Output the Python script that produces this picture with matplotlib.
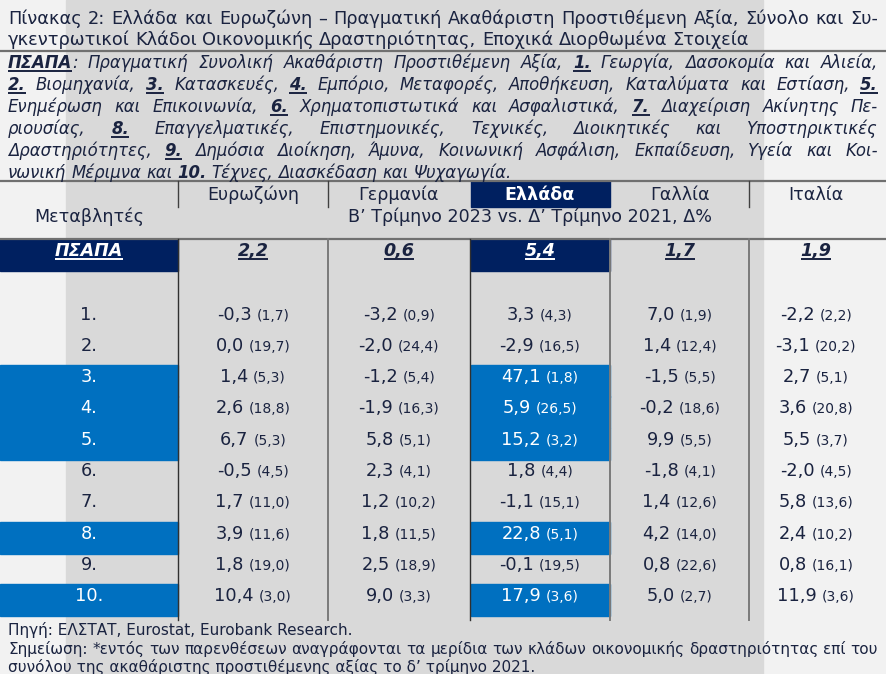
import matplotlib.pyplot as plt
from matplotlib.patches import Rectangle

plt.rcParams['font.family'] = ['DejaVu Sans']

# data
countries = ['Ευρωζώνη', 'Γερμανία', 'Ελλάδα', 'Γαλλία', 'Ιταλία']
totals = [2.2, 0.6, 5.4, 1.7, 1.9]
row_labels = ['1.', '2.', '3.', '4.', '5.', '6.', '7.', '8.', '9.', '10.']
euro = [-0.3, 0.0, 1.4, 2.6, 6.7, -0.5, 1.7, 3.9, 1.8, 10.4]
euro_sh = [1.7, 19.7, 5.3, 18.8, 5.3, 4.5, 11.0, 11.6, 19.0, 3.0]
ger = [-3.2, -2.0, -1.2, -1.9, 5.8, 2.3, 1.2, 1.8, 2.5, 9.0]
ger_sh = [0.9, 24.4, 5.4, 16.3, 5.1, 4.1, 10.2, 11.5, 18.9, 3.3]
gre = [3.3, -2.9, 47.1, 5.9, 15.2, 1.8, -1.1, 22.8, -0.1, 17.9]
gre_sh = [4.3, 16.5, 1.8, 26.5, 3.2, 4.4, 15.1, 5.1, 19.5, 3.6]
fra = [7.0, 1.4, -1.5, -0.2, 9.9, -1.8, 1.4, 4.2, 0.8, 5.0]
fra_sh = [1.9, 12.4, 5.5, 18.6, 5.5, 4.1, 12.6, 14.0, 22.6, 2.7]
ita = [-2.2, -3.1, 2.7, 3.6, 5.5, -2.0, 5.8, 2.4, 0.8, 11.9]
ita_sh = [2.2, 20.2, 5.1, 20.8, 3.7, 4.5, 13.6, 10.2, 16.1, 3.6]
highlight = ['3.', '4.', '5.', '8.', '10.']

title = ['Πίνακας 2: Ελλάδα και Ευρωζώνη – Πραγματική Ακαθάριστη Προστιθέμενη Αξία, Σύνολο και Συ-',
         'γκεντρωτικοί Κλάδοι Οικονομικής Δραστηριότητας, Εποχικά Διορθωμένα Στοιχεία']
# *...* = bold underlined
desc = ['*ΠΣΑΠΑ*: Πραγματική Συνολική Ακαθάριστη Προστιθέμενη Αξία, *1.* Γεωργία, Δασοκομία και Αλιεία,',
        '*2.* Βιομηχανία, *3.* Κατασκευές, *4.* Εμπόριο, Μεταφορές, Αποθήκευση, Καταλύματα και Εστίαση, *5.*',
        'Ενημέρωση και Επικοινωνία, *6.* Χρηματοπιστωτικά και Ασφαλιστικά, *7.* Διαχείριση Ακίνητης Πε-',
        'ριουσίας, *8.* Επαγγελματικές, Επιστημονικές, Τεχνικές, Διοικητικές και Υποστηρικτικές',
        'Δραστηριότητες, *9.* Δημόσια Διοίκηση, Άμυνα, Κοινωνική Ασφάλιση, Εκπαίδευση, Υγεία και Κοι-',
        'νωνική Μέριμνα και *10.* Τέχνες, Διασκέδαση και Ψυχαγωγία.']
subtitle = 'Β’ Τρίμηνο 2023 vs. Δ’ Τρίμηνο 2021, Δ%'
footer = ['Πηγή: ΕΛΣΤΑΤ, Eurostat, Eurobank Research.',
          'Σημείωση: *εντός των παρενθέσεων αναγράφονται τα μερίδια των κλάδων οικονομικής δραστηριότητας επί του',
          'συνόλου της ακαθάριστης προστιθέμενης αξίας το δ’ τρίμηνο 2021.']

TXT = '#1a2340'
NAVY = '#002060'
BLUE = '#0070C0'

W, H = 886, 674
fig = plt.figure(figsize=(W / 100, H / 100), dpi=100)
ax = fig.add_axes([0, 0, 1, 1])
ax.set_xlim(0, W)
ax.set_ylim(H, 0)
ax.axis('off')
fig.patch.set_facecolor('#F2F2F2')
ax.add_patch(Rectangle((66, 0), 697, H, color='#D9D9D9', zorder=0))
r = fig.canvas.get_renderer()


def width(t):
    return t.get_window_extent(r).width


def underline(t, c):
    bb = t.get_window_extent(r)
    y = H - bb.y0 - 1
    ax.plot([bb.x0, bb.x1], [y, y], color=c, lw=1.4, solid_capstyle='butt')


def draw_line(text, y, x0, x1, size, justify, italic=True, color=TXT, markup=True):
    words = text.split(' ')
    arts = []
    tot = 0
    for w in words:
        pieces = w.split('*') if markup else [w]
        parts = []
        for i, p in enumerate(pieces):
            if not p:
                continue
            bold = i % 2 == 1
            t = ax.text(0, y, p, fontsize=size, color=color, va='baseline', ha='left',
                        style='italic' if italic else 'normal',
                        weight='bold' if bold else 'normal')
            parts.append((t, bold, width(t)))
        wsum = sum(p[2] for p in parts)
        arts.append((parts, wsum))
        tot += wsum
    if justify and len(arts) > 1:
        gap = (x1 - x0 - tot) / (len(arts) - 1)
    else:
        gap = size * 0.42
    x = x0
    for parts, wsum in arts:
        for t, bold, w in parts:
            t.set_x(x)
            if bold:
                underline(t, color)
            x += w
        x += gap


# title and description
draw_line(title[0], 24, 8, 878, 12.8, True, italic=False)
draw_line(title[1], 45, 8, 878, 12.8, False, italic=False)
ax.plot([0, W], [51, 51], color='#707070', lw=1.6)
for i, line in enumerate(desc):
    draw_line(line, 68 + i * 21.9, 8, 878, 11.9, i < 5)
ax.plot([0, W], [181, 181], color='#707070', lw=1.6)

# header
col_x = [253, 399, 540, 680, 816]
sep_x = [178, 328, 470, 610, 749]
ax.add_patch(Rectangle((471, 181), 139, 26, color=NAVY, zorder=1))
for x in [178, 328, 749]:
    ax.plot([x, x], [181, 207], color='#404040', lw=1)
for i, c in enumerate(countries):
    gr = c == 'Ελλάδα'
    ax.text(col_x[i], 195, c, fontsize=12.6, ha='center', va='center',
            color='white' if gr else TXT, weight='bold' if gr else 'normal', zorder=3)
ax.text(89, 217, 'Μεταβλητές', fontsize=12.6, ha='center', va='center', color=TXT)
ax.text(530, 217, subtitle, fontsize=12.6, ha='center', va='center', color=TXT)
ax.plot([0, W], [238.5, 238.5], color='#707070', lw=1.6)

# ΠΣΑΠΑ row
ax.add_patch(Rectangle((0, 239), 178, 32, color=NAVY, zorder=1))
ax.add_patch(Rectangle((471, 239), 139, 32, color=NAVY, zorder=1))
t = ax.text(89, 256, 'ΠΣΑΠΑ', fontsize=12.6, ha='center', va='baseline', color='white',
            weight='bold', style='italic', zorder=3)
underline(t, 'white')
for i, v in enumerate(totals):
    c = 'white' if i == 2 else TXT
    t = ax.text(col_x[i], 256, f'{v:.1f}'.replace('.', ','), fontsize=12.6, ha='center',
                va='baseline', color=c, weight='bold', style='italic', zorder=3)
    underline(t, c)

# data rows
vals = [euro, ger, gre, fra, ita]
shares = [euro_sh, ger_sh, gre_sh, fra_sh, ita_sh]
for j, lab in enumerate(row_labels):
    yc = 313 + j * 31.3
    hl = lab in highlight
    if hl:
        ax.add_patch(Rectangle((0, yc - 10.5), 178, 32, color=BLUE, zorder=1))
        ax.add_patch(Rectangle((471, yc - 10.5), 139, 32, color=BLUE, zorder=1))
    ax.text(89, yc + 6.5, lab, fontsize=12.8, ha='center', va='baseline',
            color='white' if hl else TXT, zorder=3)
    for i in range(5):
        c = 'white' if (hl and i == 2) else TXT
        t1 = ax.text(0, yc + 6.5, f'{vals[i][j]:.1f}'.replace('.', ','), fontsize=12.8,
                     va='baseline', ha='left', color=c, zorder=3)
        t2 = ax.text(0, yc + 6.5, '(' + f'{shares[i][j]:.1f}'.replace('.', ',') + ')',
                     fontsize=10, va='baseline', ha='left', color=c, zorder=3)
        w1, w2 = width(t1), width(t2)
        x = col_x[i] - (w1 + 5 + w2) / 2
        t1.set_x(x)
        t2.set_x(x + w1 + 5)

for k, x in enumerate(sep_x):
    ax.plot([x, x], [239, 620], color='#303030' if k in (0, 2) else '#7a7a7a',
            lw=1 if k in (0, 2) else 1.4, zorder=2)

# footer
ax.text(8, 635, footer[0], fontsize=11, color=TXT, va='baseline')
draw_line(footer[1], 654, 8, 878, 11, True, italic=False, markup=False)
ax.text(8, 672, footer[2], fontsize=11, color=TXT, va='baseline')

fig.savefig('out.png', dpi=100, facecolor=fig.get_facecolor())
